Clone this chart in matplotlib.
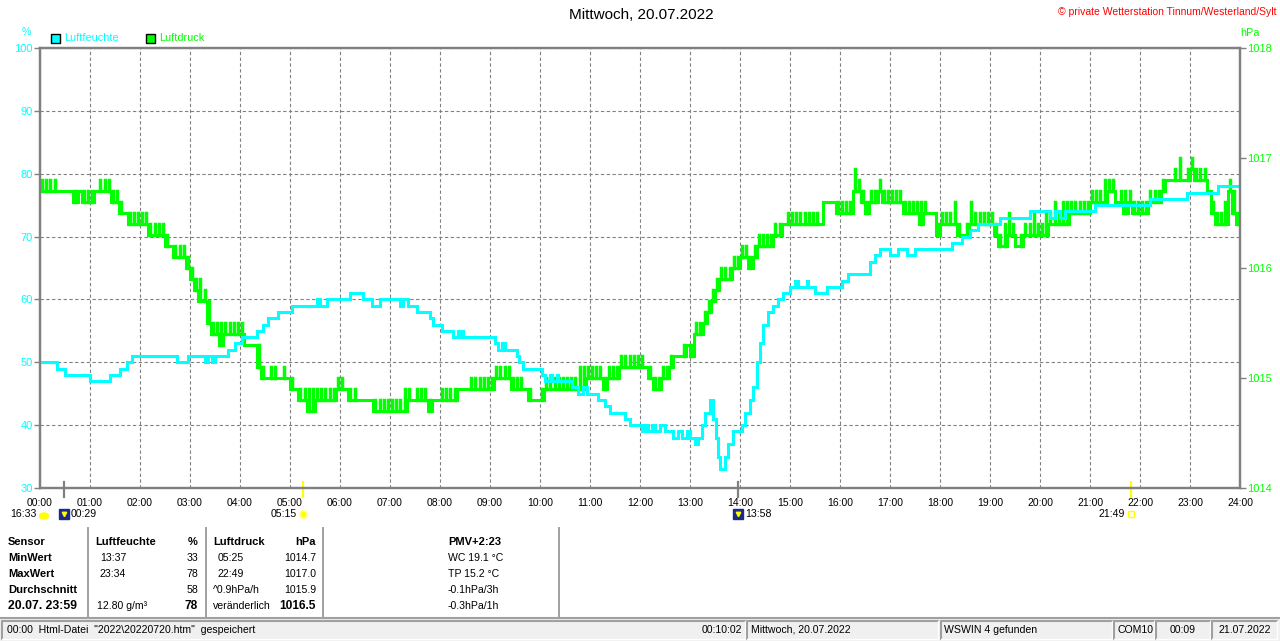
import numpy as np
import matplotlib
matplotlib.use("Agg")
import matplotlib.pyplot as plt
from matplotlib.patches import Rectangle, Ellipse

plt.rcParams['font.family'] = ['Liberation Sans', 'DejaVu Sans']

CYAN = '#00ffff'
GREEN = '#00ff00'
GRAY = '#808080'
YELLOW = '#ffff00'
NAVY = '#1c2a8a'

# Luftfeuchte: change points (time, %)
hum_time = ['00:00', '00:20', '00:30', '01:00', '01:24', '01:36', '01:44', '01:50',
            '02:44', '02:58', '03:18', '03:22', '03:26', '03:30', '03:46', '03:54',
            '04:02', '04:20', '04:28', '04:34', '04:46', '05:02', '05:32', '05:36',
            '05:44', '06:12', '06:28', '06:38', '06:48', '07:12', '07:16', '07:22',
            '07:32', '07:48', '07:52', '08:02', '08:16', '08:22', '08:24', '08:26',
            '08:28', '09:06', '09:10', '09:14', '09:18', '09:32', '09:35', '09:40',
            '10:02', '10:06', '10:12', '10:14', '10:20', '10:22', '10:38', '10:46',
            '10:52', '10:56', '11:10', '11:18', '11:24', '11:42', '11:48', '12:02',
            '12:06', '12:10', '12:14', '12:18', '12:24', '12:30', '12:40', '12:46',
            '12:50', '12:56', '13:00', '13:06', '13:10', '13:14', '13:18', '13:24',
            '13:28', '13:31', '13:34', '13:36', '13:42', '13:46', '13:52', '14:02',
            '14:06', '14:12', '14:16', '14:20', '14:24', '14:28', '14:34', '14:40',
            '14:46', '14:52', '15:00', '15:06', '15:10', '15:20', '15:22', '15:30',
            '15:44', '16:02', '16:10', '16:36', '16:42', '16:48', '17:00', '17:10',
            '17:20', '17:30', '18:14', '18:26', '18:36', '18:46', '19:12', '19:48',
            '20:12', '20:18', '20:24', '20:30', '21:06', '22:12', '22:56', '23:34',
            '24:00']
hum_val = [50, 49, 48, 47, 48, 49, 50, 51,
           50, 51, 50, 51, 50, 51, 52, 53,
           54, 55, 56, 57, 58, 59, 60, 59,
           60, 61, 60, 59, 60, 59, 60, 59,
           58, 57, 56, 55, 54, 55, 54, 55,
           54, 53, 52, 53, 52, 51, 50, 49,
           48, 47, 48, 47, 48, 47, 46, 45,
           46, 45, 44, 43, 42, 41, 40, 39,
           40, 39, 40, 39, 40, 39, 38, 39,
           38, 39, 38, 37, 38, 40, 42, 44,
           41, 38, 35, 33, 35, 37, 39, 40,
           42, 44, 46, 50, 53, 56, 58, 59,
           60, 61, 62, 63, 62, 63, 62, 61,
           62, 63, 64, 66, 67, 68, 67, 68,
           67, 68, 69, 70, 71, 72, 73, 74,
           73, 74, 73, 74, 75, 76, 77, 78,
           78]

# Luftdruck: lowest / highest reading in every 5 minute slot (hPa)
press_lo = [
    1016.7, 1016.7, 1016.7, 1016.7, 1016.7, 1016.7, 1016.7, 1016.7, 1016.6, 1016.7, 1016.6, 1016.6,
    1016.6, 1016.7, 1016.7, 1016.7, 1016.7, 1016.6, 1016.6, 1016.5, 1016.5, 1016.4, 1016.4, 1016.4,
    1016.4, 1016.4, 1016.3, 1016.3, 1016.3, 1016.3, 1016.2, 1016.2, 1016.1, 1016.1, 1016.1, 1016.0,
    1015.9, 1015.8, 1015.7, 1015.7, 1015.5, 1015.4, 1015.4, 1015.3, 1015.4, 1015.4, 1015.4, 1015.4,
    1015.4, 1015.3, 1015.3, 1015.3, 1015.1, 1015.0, 1015.0, 1015.0, 1015.0, 1015.0, 1015.0, 1015.0,
    1014.9, 1014.9, 1014.8, 1014.8, 1014.7, 1014.7, 1014.8, 1014.8, 1014.8, 1014.8, 1014.8, 1014.9,
    1014.9, 1014.9, 1014.8, 1014.8, 1014.8, 1014.8, 1014.8, 1014.8, 1014.7, 1014.7, 1014.7, 1014.7,
    1014.7, 1014.7, 1014.7, 1014.7, 1014.8, 1014.8, 1014.8, 1014.8, 1014.8, 1014.7, 1014.8, 1014.8,
    1014.8, 1014.8, 1014.8, 1014.8, 1014.9, 1014.9, 1014.9, 1014.9, 1014.9, 1014.9, 1014.9, 1014.9,
    1014.9, 1015.0, 1015.0, 1015.0, 1015.0, 1014.9, 1014.9, 1014.9, 1014.9, 1014.8, 1014.8, 1014.8,
    1014.8, 1014.9, 1014.9, 1014.9, 1014.9, 1014.9, 1014.9, 1014.9, 1014.9, 1014.9, 1014.9, 1015.0,
    1015.0, 1015.0, 1015.0, 1014.9, 1015.0, 1015.0, 1015.0, 1015.1, 1015.1, 1015.1, 1015.1, 1015.1,
    1015.1, 1015.1, 1015.0, 1014.9, 1014.9, 1015.0, 1015.0, 1015.1, 1015.2, 1015.2, 1015.2, 1015.3,
    1015.2, 1015.4, 1015.4, 1015.5, 1015.6, 1015.7, 1015.8, 1015.9, 1015.9, 1015.9, 1016.0, 1016.0,
    1016.1, 1016.1, 1016.0, 1016.1, 1016.2, 1016.2, 1016.2, 1016.2, 1016.3, 1016.3, 1016.4, 1016.4,
    1016.4, 1016.4, 1016.4, 1016.4, 1016.4, 1016.4, 1016.4, 1016.4, 1016.6, 1016.6, 1016.6, 1016.5,
    1016.5, 1016.5, 1016.5, 1016.7, 1016.7, 1016.6, 1016.5, 1016.6, 1016.6, 1016.7, 1016.6, 1016.6,
    1016.6, 1016.6, 1016.6, 1016.5, 1016.5, 1016.5, 1016.5, 1016.4, 1016.5, 1016.5, 1016.5, 1016.3,
    1016.4, 1016.4, 1016.4, 1016.4, 1016.3, 1016.3, 1016.3, 1016.4, 1016.4, 1016.4, 1016.4, 1016.4,
    1016.4, 1016.3, 1016.2, 1016.2, 1016.3, 1016.3, 1016.2, 1016.2, 1016.3, 1016.3, 1016.3, 1016.3,
    1016.3, 1016.3, 1016.4, 1016.4, 1016.4, 1016.4, 1016.4, 1016.5, 1016.5, 1016.5, 1016.5, 1016.5,
    1016.6, 1016.6, 1016.6, 1016.6, 1016.7, 1016.7, 1016.6, 1016.6, 1016.5, 1016.6, 1016.5, 1016.5,
    1016.5, 1016.5, 1016.6, 1016.6, 1016.6, 1016.7, 1016.8, 1016.8, 1016.8, 1016.8, 1016.8, 1016.8,
    1016.9, 1016.8, 1016.8, 1016.8, 1016.7, 1016.5, 1016.4, 1016.4, 1016.4, 1016.7, 1016.5, 1016.4,
    1016.4]
press_hi = [
    1016.8, 1016.8, 1016.8, 1016.8, 1016.7, 1016.7, 1016.7, 1016.7, 1016.7, 1016.7, 1016.7, 1016.7,
    1016.7, 1016.7, 1016.8, 1016.8, 1016.8, 1016.7, 1016.7, 1016.6, 1016.5, 1016.5, 1016.5, 1016.5,
    1016.5, 1016.5, 1016.4, 1016.4, 1016.4, 1016.4, 1016.3, 1016.2, 1016.2, 1016.2, 1016.2, 1016.1,
    1016.0, 1015.9, 1015.9, 1015.8, 1015.7, 1015.5, 1015.5, 1015.5, 1015.5, 1015.5, 1015.5, 1015.5,
    1015.5, 1015.3, 1015.3, 1015.3, 1015.3, 1015.1, 1015.0, 1015.1, 1015.1, 1015.0, 1015.1, 1015.0,
    1015.0, 1014.9, 1014.9, 1014.9, 1014.9, 1014.9, 1014.9, 1014.9, 1014.9, 1014.9, 1014.9, 1015.0,
    1015.0, 1014.9, 1014.9, 1014.9, 1014.8, 1014.8, 1014.8, 1014.8, 1014.8, 1014.8, 1014.8, 1014.8,
    1014.8, 1014.8, 1014.8, 1014.9, 1014.9, 1014.8, 1014.9, 1014.9, 1014.9, 1014.8, 1014.8, 1014.8,
    1014.9, 1014.9, 1014.9, 1014.9, 1014.9, 1014.9, 1014.9, 1015.0, 1015.0, 1015.0, 1015.0, 1015.0,
    1015.0, 1015.1, 1015.1, 1015.1, 1015.1, 1015.0, 1015.0, 1015.0, 1014.9, 1014.9, 1014.8, 1014.8,
    1014.9, 1015.0, 1015.0, 1015.0, 1015.0, 1015.0, 1015.0, 1015.0, 1015.0, 1015.1, 1015.1, 1015.1,
    1015.1, 1015.1, 1015.1, 1015.0, 1015.1, 1015.1, 1015.1, 1015.2, 1015.2, 1015.2, 1015.2, 1015.2,
    1015.2, 1015.1, 1015.1, 1015.0, 1015.0, 1015.1, 1015.1, 1015.2, 1015.2, 1015.2, 1015.3, 1015.3,
    1015.3, 1015.5, 1015.5, 1015.6, 1015.7, 1015.8, 1015.9, 1016.0, 1016.0, 1016.0, 1016.1, 1016.1,
    1016.2, 1016.2, 1016.1, 1016.2, 1016.3, 1016.3, 1016.3, 1016.3, 1016.4, 1016.4, 1016.4, 1016.5,
    1016.5, 1016.5, 1016.5, 1016.5, 1016.5, 1016.5, 1016.5, 1016.4, 1016.6, 1016.6, 1016.6, 1016.6,
    1016.6, 1016.6, 1016.6, 1016.9, 1016.8, 1016.7, 1016.6, 1016.7, 1016.7, 1016.8, 1016.7, 1016.7,
    1016.7, 1016.7, 1016.7, 1016.6, 1016.6, 1016.6, 1016.6, 1016.6, 1016.6, 1016.5, 1016.5, 1016.4,
    1016.5, 1016.5, 1016.5, 1016.6, 1016.4, 1016.3, 1016.4, 1016.6, 1016.5, 1016.5, 1016.5, 1016.5,
    1016.5, 1016.4, 1016.3, 1016.4, 1016.5, 1016.4, 1016.2, 1016.3, 1016.4, 1016.4, 1016.5, 1016.4,
    1016.4, 1016.5, 1016.5, 1016.6, 1016.5, 1016.6, 1016.6, 1016.6, 1016.6, 1016.6, 1016.6, 1016.6,
    1016.7, 1016.7, 1016.7, 1016.8, 1016.8, 1016.8, 1016.6, 1016.7, 1016.7, 1016.7, 1016.6, 1016.6,
    1016.6, 1016.6, 1016.7, 1016.7, 1016.7, 1016.8, 1016.8, 1016.8, 1016.9, 1017.0, 1016.8, 1016.9,
    1017.0, 1016.9, 1016.9, 1016.9, 1016.7, 1016.6, 1016.5, 1016.5, 1016.6, 1016.8, 1016.7, 1016.5,
    1016.5]

hour_labels = ['%02d:00' % h for h in range(25)]
hum_ticks = [30, 40, 50, 60, 70, 80, 90, 100]
press_ticks = [1014, 1015, 1016, 1017, 1018]

# Sonne / Mond Ereignisse
event_time = ['00:29', '05:15', '13:58', '21:49']
event_tick = [GRAY, YELLOW, GRAY, YELLOW]


def hhmm(s):
    h, m = s.split(':')
    return int(h) + int(m) / 60.0


W, H = 1280, 641
fig = plt.figure(figsize=(W / 100, H / 100), dpi=100)
fig.patch.set_facecolor('white')

# pixel overlay for all the window decoration
ov = fig.add_axes([0, 0, 1, 1])
ov.set_xlim(0, W)
ov.set_ylim(H, 0)
ov.axis('off')

ax = fig.add_axes([40 / W, (H - 488) / H, 1200 / W, 440 / H])
ax2 = ax.twinx()

ax.set_xlim(0, 24)
ax.set_ylim(30, 100)
ax.set_xticks(range(25))
ax.set_xticklabels(hour_labels)
ax.set_yticks(hum_ticks)
ax.grid(True, ls=(0, (3, 2.2)), color=GRAY, lw=0.8)
ax.tick_params(axis='x', length=0, pad=7, labelsize=7.5)
ax.tick_params(axis='y', direction='out', length=4, width=1, color=GRAY,
               labelcolor=CYAN, labelsize=8, pad=1)

ht = np.array([hhmm(t) for t in hum_time])
pt = np.arange(len(press_lo)) / 12.0
lo = np.array(press_lo)
hi = np.array(press_hi)
ax2.plot(pt, lo, color=GREEN, lw=2.2, drawstyle='steps-post', solid_joinstyle='miter')
# short spikes where the reading flickers inside a slot
jit = hi > lo + 0.01
ax2.vlines(pt[jit] + 2.5 / 60, lo[jit], hi[jit], color=GREEN, lw=2.5,
           capstyle='projecting')
# humidity on top of the pressure trace, but on the left scale
ax2.plot(ht, hum_val, color=CYAN, lw=2.2, drawstyle='steps-post',
         solid_joinstyle='miter', transform=ax.transData)
ax2.set_ylim(1014, 1018)
ax2.set_xlim(0, 24)
ax2.set_yticks(press_ticks)
ax2.tick_params(axis='y', direction='out', length=4, width=1, color=GRAY,
                labelcolor=GREEN, labelsize=8, pad=1)

for a in (ax, ax2):
    for sp in a.spines.values():
        sp.set_color(GRAY)
        sp.set_linewidth(1.6)

# event marks on the time axis
xt = ax.get_xaxis_transform()
for t, c in zip(event_time, event_tick):
    ax.plot([hhmm(t)] * 2, [-0.02, 0.014], color=c, lw=1.6, transform=xt,
            clip_on=False)

iy = -0.059
# moon icons
for t in ['00:29', '13:58']:
    ax.plot([hhmm(t)], [iy], marker='s', ms=6.5, color=NAVY, transform=xt, clip_on=False)
    ax.plot([hhmm(t)], [iy], marker='v', ms=3.2, color=YELLOW, transform=xt, clip_on=False)
ax.plot([hhmm('05:15')], [iy], marker='o', ms=5.5, color=YELLOW, mec='#ffffa0', mew=1.5,
        transform=xt, clip_on=False)
ax.plot([hhmm('21:49')], [iy], marker='s', ms=4, mfc='none', mec=YELLOW, mew=1,
        transform=xt, clip_on=False)

for t, dx, ha in [('00:29', 6, 'left'), ('05:15', -6, 'right'),
                  ('13:58', 7, 'left'), ('21:49', -6, 'right')]:
    ax.annotate(t, xy=(hhmm(t), iy), xycoords=xt, xytext=(dx, 0),
                textcoords='offset pixels', ha=ha, va='center', fontsize=7.6)
ov.text(37, 514, '16:33', ha='right', va='center', fontsize=7.6)
ov.add_patch(Ellipse((44, 516), 9, 6, color=YELLOW))

# titles and legend
ov.text(641, 15, 'Mittwoch, 20.07.2022', ha='center', va='center', fontsize=11)
ov.text(1276, 12, '\u00a9 private Wetterstation Tinnum/Westerland/Sylt', ha='right',
        va='center', fontsize=7.5, color='#ff0000')
ov.text(26, 32, '%', ha='center', va='center', fontsize=7.6, color=CYAN)
ov.text(1250, 33, 'hPa', ha='center', va='center', fontsize=7.8, color=GREEN)
ov.add_patch(Rectangle((50.5, 33.5), 9, 9, fc=CYAN, ec='black', lw=1))
ov.text(64, 38, 'Luftfeuchte', ha='left', va='center', fontsize=7.8, color=CYAN)
ov.add_patch(Rectangle((145.5, 33.5), 9, 9, fc=GREEN, ec='black', lw=1))
ov.text(159, 38, 'Luftdruck', ha='left', va='center', fontsize=7.8, color=GREEN)

# data table below the chart
rows = [542, 558, 574, 590, 606]
for x in [88, 205.5, 323, 559]:
    ov.plot([x, x], [528, 616], color='#a0a0a0', lw=1.4)

fb = dict(fontsize=8, fontweight='bold', va='center')
fr = dict(fontsize=7.6, va='center')
for y, s in zip(rows, ['Sensor', 'MinWert', 'MaxWert', 'Durchschnitt']):
    ov.text(8, y, s, ha='left', **fb)
ov.text(8, rows[4], '20.07. 23:59', ha='left', fontsize=8.8, fontweight='bold', va='center')

ov.text(95, rows[0], 'Luftfeuchte', ha='left', **fb)
ov.text(198, rows[0], '%', ha='right', **fb)
ov.text(100, rows[1], '13:37', ha='left', **fr)
ov.text(198, rows[1], '33', ha='right', **fr)
ov.text(100, rows[2], '23:34', ha='left', **fr)
ov.text(198, rows[2], '78', ha='right', **fr)
ov.text(198, rows[3], '58', ha='right', **fr)
ov.text(97, rows[4], '12.80 g/m\u00b3', ha='left', **fr)
ov.text(198, rows[4], '78', ha='right', fontsize=8.6, fontweight='bold', va='center')

ov.text(213, rows[0], 'Luftdruck', ha='left', **fb)
ov.text(316, rows[0], 'hPa', ha='right', **fb)
ov.text(218, rows[1], '05:25', ha='left', **fr)
ov.text(316, rows[1], '1014.7', ha='right', **fr)
ov.text(218, rows[2], '22:49', ha='left', **fr)
ov.text(316, rows[2], '1017.0', ha='right', **fr)
ov.text(213, rows[3], '^0.9hPa/h', ha='left', **fr)
ov.text(316, rows[3], '1015.9', ha='right', **fr)
ov.text(213, rows[4], 'veränderlich', ha='left', **fr)
ov.text(316, rows[4], '1016.5', ha='right', fontsize=8.6, fontweight='bold', va='center')

ov.text(448, rows[0], 'PMV+2:23', ha='left', **fb)
for y, s in zip(rows[1:], ['WC 19.1 °C', 'TP 15.2 °C', '-0.1hPa/3h', '-0.3hPa/1h']):
    ov.text(448, y, s, ha='left', **fr)

# status bar
ov.add_patch(Rectangle((0, 618), W, H - 618, fc='#f0f0f0', ec='none'))
ov.plot([0, W], [617.5, 617.5], color='#a0a0a0', lw=1.5)
panels = [(2, 745), (747, 938), (941, 1112), (1114, 1154), (1156, 1210), (1212, 1277)]
for x0, x1 in panels:
    ov.plot([x0, x0, x1], [639, 621, 621], color='#a0a0a0', lw=1.5)
    ov.plot([x0, x1, x1], [639, 639, 621], color='white', lw=1)
sy = 630
ov.text(7, sy, '00:00  Html-Datei  "2022\\20220720.htm"  gespeichert', ha='left',
        va='center', fontsize=7.6)
ov.text(742, sy, '00:10:02', ha='right', va='center', fontsize=7.6)
ov.text(751, sy, 'Mittwoch, 20.07.2022', ha='left', va='center', fontsize=7.6)
ov.text(944, sy, 'WSWIN 4 gefunden', ha='left', va='center', fontsize=7.6)
ov.text(1117, sy, 'COM10', ha='left', va='center', fontsize=7.6)
ov.text(1183, sy, '00:09', ha='center', va='center', fontsize=7.6)
ov.text(1245, sy, '21.07.2022', ha='center', va='center', fontsize=7.6)

fig.savefig('out.png', dpi=100)
